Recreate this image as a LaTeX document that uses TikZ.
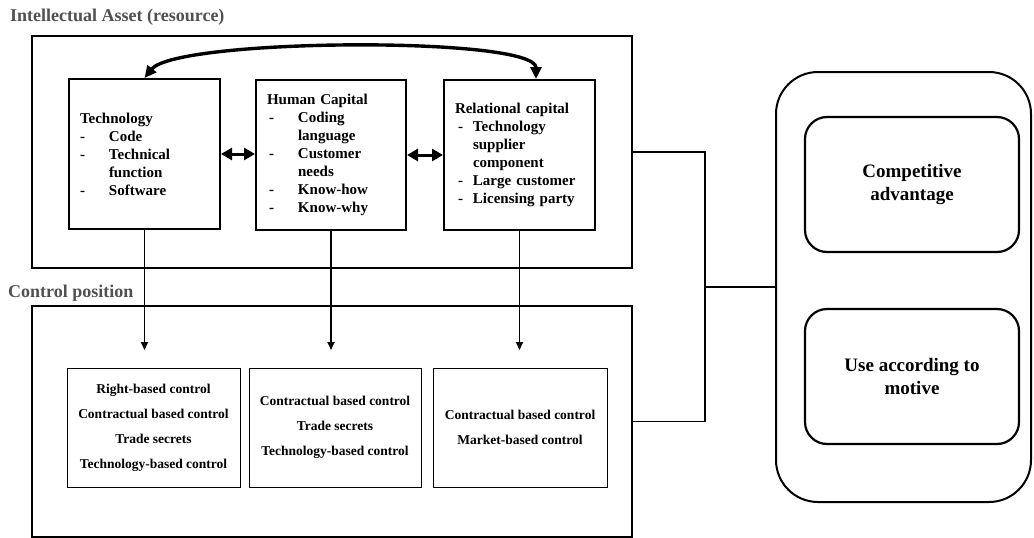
\documentclass[tikz,border=0pt]{standalone}
\usepackage{fontspec}
\setmainfont{Liberation Serif}
\usetikzlibrary{arrows.meta}
\definecolor{titlegray}{HTML}{505050}
\begin{document}
\begin{tikzpicture}[x=1pt,y=-1pt,
  panel/.style={draw,line width=2.2pt,minimum width=600pt,inner sep=0pt},
  asset/.style={draw,line width=2pt,minimum height=150pt,inner xsep=11pt,inner ysep=0pt,
    align=left,font=\fontsize{15}{18}\selectfont\bfseries},
  ctrl/.style={draw,line width=1pt,minimum height=119pt,inner sep=0pt,align=center,
    font=\fontsize{13.5}{25}\selectfont\bfseries},
  outcome/.style={draw,line width=2.2pt,rounded corners=22pt,minimum width=214pt,minimum height=135pt,
    inner sep=0pt,align=center,font=\fontsize{19}{23}\selectfont\bfseries},
  heading/.style={anchor=west,inner sep=0pt,text=titlegray,font=\fontsize{18}{20}\selectfont\bfseries},
  bigtip/.style={line width=3.4pt,{Triangle[length=12pt,width=11pt]}-{Triangle[length=12pt,width=11pt]}},
  duo/.style={line width=3pt,{Triangle[length=11pt,width=12pt]}-{Triangle[length=11pt,width=12pt]}},
  drop/.style={line width=1.7pt,-{Triangle[length=8pt,width=7pt]}},
  link/.style={line width=1.7pt}
]
\useasboundingbox (0,0) rectangle (1034,538);

% headings
\node[heading] (h1) at (10,17) {Intellectual Asset (resource)};
\node[heading] (h2) at (8,293) {Control position};

% outer panels
\node[panel,minimum height=232pt] (topP) at (332,152) {};
\node[panel,minimum height=231pt] (botP) at (332,421.5) {};

% intellectual asset boxes
\node[asset,text width=129pt] (tech) at (144.5,154) {Technology\\
  \makebox[29pt][l]{-}Code\\
  \makebox[29pt][l]{-}Technical\\
  \hspace*{29pt}function\\
  \makebox[29pt][l]{-}Software};
\node[asset,text width=128pt] (hum) at (331,155) {Human Capital\\
  \makebox[31pt][l]{\hspace*{2pt}-}Coding\\
  \hspace*{31pt}language\\
  \makebox[31pt][l]{\hspace*{2pt}-}Customer\\
  \hspace*{31pt}needs\\
  \makebox[31pt][l]{\hspace*{2pt}-}Know-how\\
  \makebox[31pt][l]{\hspace*{2pt}-}Know-why};
\node[asset,text width=129pt] (rel) at (519.5,155) {Relational capital\\
  \makebox[18pt][l]{\hspace*{3pt}-}Technology\\
  \hspace*{18pt}supplier\\
  \hspace*{18pt}component\\
  \makebox[18pt][l]{\hspace*{3pt}-}Large customer\\
  \makebox[18pt][l]{\hspace*{3pt}-}Licensing party};

% links between assets
\draw[bigtip] (tech.north) .. controls +(32,-40) and +(0,-43) .. ([xshift=16.5pt]rel.north);
\draw[duo] (tech.east) -- (tech.east -| hum.west);
\draw[duo] (hum.east) -- (hum.east -| rel.west);

% control boxes
\node[ctrl,minimum width=173pt] (c1) at (153.5,427.5) {Right-based control\\Contractual based control\\Trade secrets\\Technology-based control};
\node[ctrl,minimum width=172pt] (c2) at (335,427.5) {Contractual based control\\Trade secrets\\Technology-based control};
\node[ctrl,minimum width=174pt] (c3) at (520,427.5) {Contractual based control\\Market-based control};

% drops from assets to control level
\coordinate (tipy) at (0,350);
\draw[drop] (tech.south) -- (tech.south |- tipy);
\draw[drop] (hum.south) -- (hum.south |- tipy);
\draw[drop] (rel.south) -- (rel.south |- tipy);

% outcomes
\node[draw,line width=2pt,rounded corners=42pt,minimum width=255pt,minimum height=430pt,inner sep=0pt] (big) at (903.5,287) {};
\node[outcome] (ca) at (912,184.5) {Competitive\\advantage};
\node[outcome] (use) at (912,376.5) {Use according to\\motive};

% bracket joining both panels to the outcomes
\coordinate (jx) at (705,0);
\draw[link] (topP.east) -- (topP.east -| jx) -- (botP.east -| jx) -- (botP.east);
\draw[link] (big.west -| jx) -- (big.west);
\end{tikzpicture}
\end{document}
